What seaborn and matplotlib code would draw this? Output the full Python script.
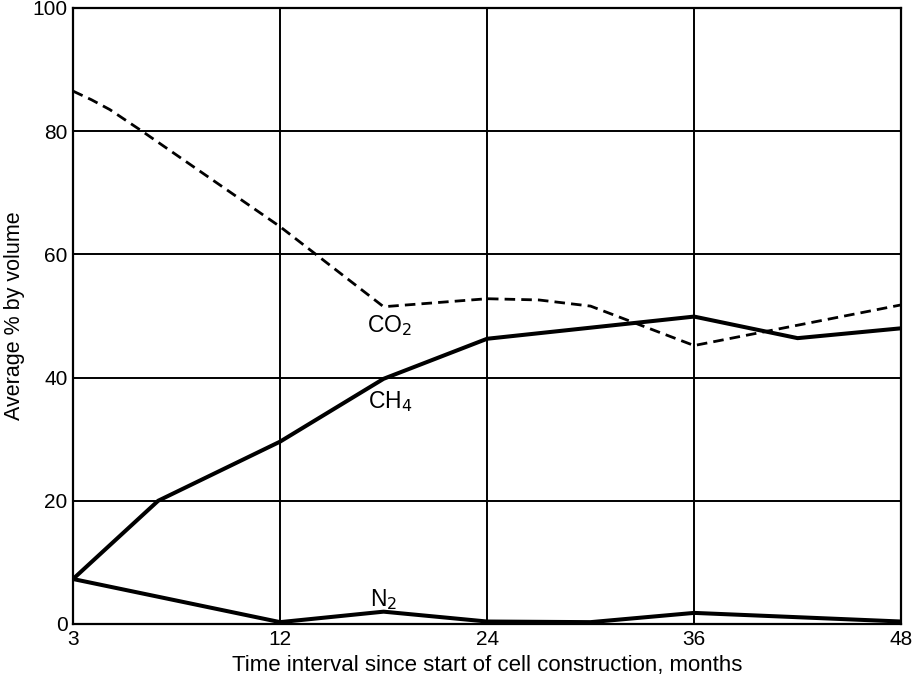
import numpy as np
import matplotlib
matplotlib.use("Agg")
import matplotlib.pyplot as plt
import seaborn as sns

# tick months (axis is drawn with equal spacing between these labels)
tick_months = [3, 12, 24, 36, 48]
y_ticks = [0, 20, 40, 60, 80, 100]

co2_months = [3, 3.8, 4.6, 6, 12, 18, 24, 27, 30, 36, 48]
co2_vals = [86.5, 85.1, 83.5, 80.0, 64.5, 51.5, 52.8, 52.6, 51.6, 45.2, 51.8]

ch4_months = [3, 6.7, 12, 18, 24, 36, 42, 48]
ch4_vals = [7.3, 20.0, 29.6, 39.8, 46.3, 49.9, 46.4, 48.0]

n2_months = [3, 12, 18, 24, 30, 36, 42, 48]
n2_vals = [7.3, 0.3, 2.0, 0.4, 0.3, 1.8, 1.1, 0.4]

sns.set_theme(style="white")
plt.rcParams['font.family'] = ['Liberation Sans', 'DejaVu Sans']
plt.rcParams['text.color'] = 'black'
plt.rcParams['axes.labelcolor'] = 'black'

def to_pos(months):
    # map months onto the evenly spaced tick positions
    return np.interp(months, tick_months, np.arange(len(tick_months)))

fig = plt.figure(figsize=(9.13, 6.86), dpi=100)
ax = fig.add_axes([0.080, 0.0904, 0.907, 0.898])

sns.lineplot(x=to_pos(co2_months), y=co2_vals, ax=ax, color='black',
             linewidth=2.0, linestyle=(0, (3.8, 2.2)), sort=False)
sns.lineplot(x=to_pos(ch4_months), y=ch4_vals, ax=ax, color='black',
             linewidth=2.9, sort=False)
sns.lineplot(x=to_pos(n2_months), y=n2_vals, ax=ax, color='black',
             linewidth=2.9, sort=False)

ax.set_xlim(0, len(tick_months) - 1)
ax.set_ylim(0, 100)
ax.set_xticks(np.arange(len(tick_months)))
ax.set_xticklabels([str(m) for m in tick_months])
ax.set_yticks(y_ticks)
ax.set_yticklabels([str(v) for v in y_ticks])
ax.tick_params(axis='both', length=0, labelsize=15, colors='black')
ax.tick_params(axis='x', pad=4)
ax.tick_params(axis='y', pad=4)

ax.grid(True, color='black', linewidth=1.4)
for s in ax.spines.values():
    s.set_color('black')
    s.set_linewidth(1.6)
    s.set_visible(True)

ax.set_xlabel('Time interval since start of cell construction, months',
              fontsize=16, color='black', labelpad=5)
ax.set_ylabel('Average % by volume', fontsize=15.5, color='black', labelpad=5)

ax.text(1.53, 48.5, 'CO$_2$', fontsize=16.5, ha='center', va='center', color='black')
ax.text(1.53, 36.1, 'CH$_4$', fontsize=16.5, ha='center', va='center', color='black')
ax.text(1.50, 3.9, 'N$_2$', fontsize=16.5, ha='center', va='center', color='black')

fig.savefig('out.png', dpi=100)
